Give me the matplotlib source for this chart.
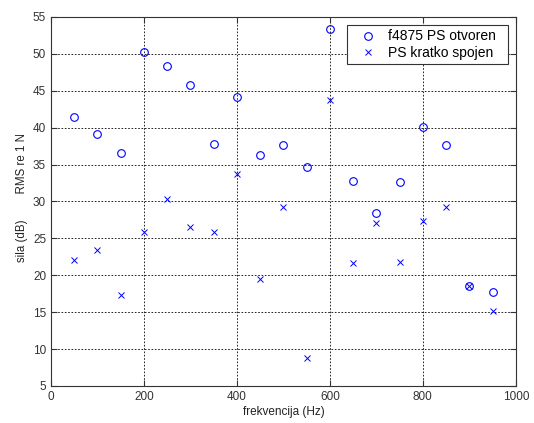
import matplotlib
matplotlib.use("Agg")
import matplotlib.pyplot as plt

plt.rcParams['font.family'] = ['Liberation Sans', 'DejaVu Sans']

# frequencies (Hz)
freq = [50, 100, 150, 200, 250, 300, 350, 400, 450, 500,
        550, 600, 650, 700, 750, 800, 850, 900, 950]
# f4875 PS otvoren
otvoren = [41.4, 39.1, 36.6, 50.2, 48.4, 45.8, 37.8, 44.2, 36.3, 37.7,
           34.7, 53.4, 32.8, 28.4, 32.7, 40.1, 37.6, 18.5, 17.7]
# PS kratko spojen
spojen = [22.1, 23.4, 17.3, 25.9, 30.3, 26.5, 25.9, 33.7, 19.5, 29.2,
          8.8, 43.7, 21.7, 27.1, 21.8, 27.3, 29.3, 18.5, 15.2]

fig = plt.figure(figsize=(5.34, 4.23), dpi=100)
ax = fig.add_axes([0.0955, 0.0875, 0.8705, 0.8725])

ax.plot(freq, otvoren, 'o', mfc='none', mec='blue', ms=5.5, mew=0.8,
        label='f4875 PS otvoren  ')
ax.plot(freq, spojen, 'x', color='blue', ms=5, mew=0.7,
        label='PS kratko spojen  ')

ax.set_xlim(0, 1000)
ax.set_ylim(5, 55)
ax.set_xticks(range(0, 1001, 200))
ax.set_yticks(range(5, 56, 5))
ax.grid(True, color='black', linestyle=(0, (2, 2)), linewidth=0.6)
ax.tick_params(direction='in', labelsize=8.5, length=4, top=True, right=True,
               colors='#333333', labelcolor='#333333')
for s in ax.spines.values():
    s.set_linewidth(0.8)
    s.set_color('#333333')

ax.set_xlabel('frekvencija (Hz)', fontsize=8.5, labelpad=2, color='#222222')
ax.set_ylabel('sila (dB)        RMS re 1 N', fontsize=8.3, color='#222222')
ax.yaxis.set_label_coords(-0.05, 0.512)

leg = ax.legend(loc='upper right', fontsize=10, fancybox=False,
                framealpha=1, edgecolor='#333333', borderaxespad=0.6,
                handletextpad=0.2, borderpad=0.3, labelspacing=0.2,
                handlelength=2.4)
leg.get_frame().set_linewidth(0.8)

fig.savefig('out.png', dpi=100)
